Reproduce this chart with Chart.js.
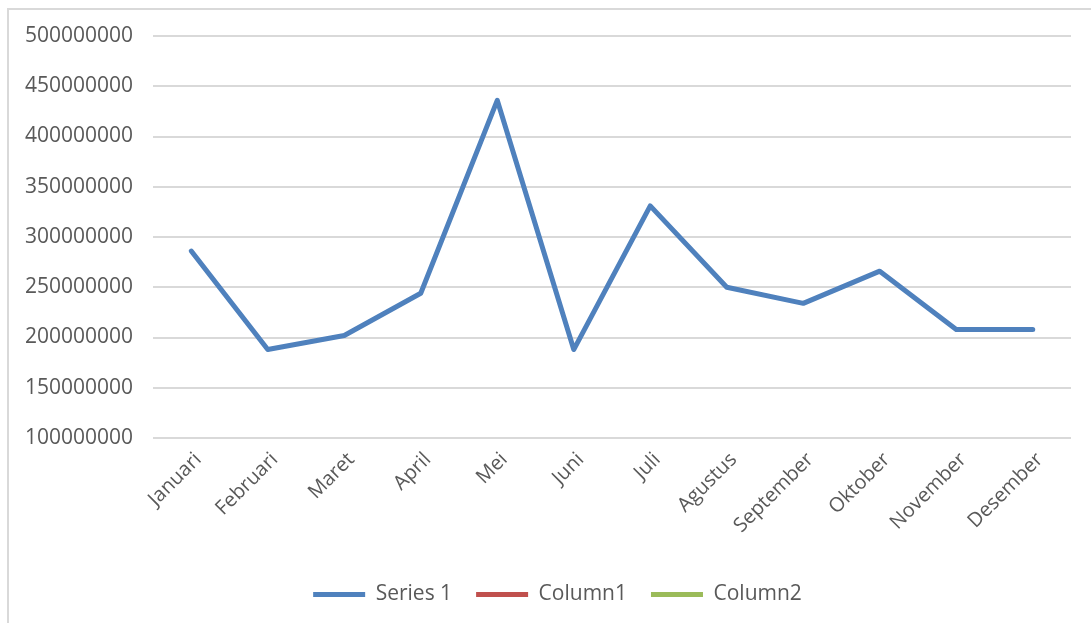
<!DOCTYPE html>
<html>
<head>
<meta charset="utf-8">
<script src="https://cdn.jsdelivr.net/npm/chart.js@4.4.0/dist/chart.umd.min.js"></script>
<style>
  html, body { margin: 0; padding: 0; background: #fff; }
  #wrap { position: relative; width: 1091px; height: 623px; overflow: hidden; }
  #frame { position: absolute; left: 7px; top: 8px; width: 1200px; height: 700px;
           border-left: 2px solid #d9d9d9; border-top: 2px solid #d9d9d9; pointer-events: none; }
  canvas { position: absolute; left: 0; top: 0; }
</style>
</head>
<body>
<div id="wrap">
  <canvas id="c" width="1091" height="623"></canvas>
  <div id="frame"></div>
</div>
<script>
const categories = ["Januari", "Februari", "Maret", "April", "Mei", "Juni", "Juli",
                    "Agustus", "September", "Oktober", "November", "Desember"];
const series1 = [286000000, 188000000, 202000000, 244000000, 436000000, 188000000,
                 331000000, 250000000, 234000000, 266000000, 208000000, 208000000];
const column1 = [];
const column2 = [];
const seriesNames = ["Series 1", "Column1", "Column2"];
const yMin = 100000000, yMax = 500000000, yStep = 50000000;

const textColor = "#595959";
const fontFamily = "'Open Sans', 'Liberation Sans', sans-serif";

const legendShift = {
  id: "legendShift",
  afterLayout(chart) {
    if (chart.legend) { chart.legend.left += 22; chart.legend.right += 22; }
  }
};

new Chart(document.getElementById("c"), {
  type: "line",
  data: {
    labels: categories,
    datasets: [
      { label: seriesNames[0], data: series1, borderColor: "#4F81BD", backgroundColor: "#4F81BD",
        borderWidth: 5, pointRadius: 0, tension: 0, borderCapStyle: "round", borderJoinStyle: "round" },
      { label: seriesNames[1], data: column1, borderColor: "#C0504D", backgroundColor: "#C0504D",
        borderWidth: 5, pointRadius: 0, borderCapStyle: "round" },
      { label: seriesNames[2], data: column2, borderColor: "#9BBB59", backgroundColor: "#9BBB59",
        borderWidth: 5, pointRadius: 0, borderCapStyle: "round" }
    ]
  },
  plugins: [legendShift],
  options: {
    responsive: false,
    animation: false,
    layout: { padding: { top: 36, right: 20, bottom: 8, left: 0 } },
    plugins: {
      tooltip: { enabled: false },
      legend: {
        position: "bottom",
        labels: {
          usePointStyle: true,
          pointStyle: "line",
          pointStyleWidth: 52,
          boxHeight: 21,
          padding: 24,
          color: textColor,
          font: { family: fontFamily, size: 21 }
        }
      }
    },
    scales: {
      x: {
        offset: true,
        grid: { display: false, drawTicks: false },
        border: { display: false },
        ticks: {
          color: textColor,
          font: { family: fontFamily, size: 20 },
          maxRotation: 45, minRotation: 45,
          padding: 10,
          labelOffset: 7,
          autoSkip: false
        },
        afterFit: (s) => { s.height = 122; }
      },
      y: {
        min: yMin, max: yMax,
        grid: { color: "#d9d9d9", lineWidth: 2, drawTicks: false },
        border: { display: false },
        ticks: {
          stepSize: yStep,
          color: textColor,
          font: { family: fontFamily, size: 21 },
          padding: 20,
          callback: (v) => String(v)
        },
        afterFit: (s) => { s.width = 153; }
      }
    }
  }
});
</script>
</body>
</html>
